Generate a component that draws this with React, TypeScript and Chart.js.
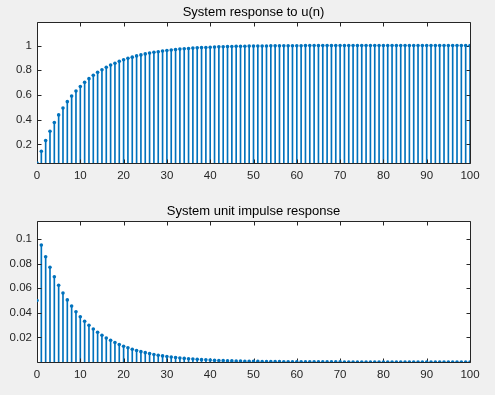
import React, { useEffect, useRef } from "react";
import { Chart, registerables } from "chart.js";
Chart.register(...registerables);

// sample index n = 0..100
const N: number[] = Array.from({ length: 101 }, (_, i) => i);

// step response y(n)
const STEP_Y: number[] = [
  0.05, 0.145, 0.231, 0.307, 0.377, 0.439, 0.495, 0.546, 0.591, 0.632,
  0.669, 0.702, 0.732, 0.759, 0.783, 0.804, 0.824, 0.842, 0.857, 0.872,
  0.885, 0.896, 0.906, 0.916, 0.924, 0.932, 0.939, 0.945, 0.95, 0.955,
  0.96, 0.964, 0.967, 0.971, 0.974, 0.976, 0.979, 0.981, 0.983, 0.984,
  0.986, 0.987, 0.989, 0.99, 0.991, 0.992, 0.993, 0.993, 0.994, 0.995,
  0.995, 0.996, 0.996, 0.996, 0.997, 0.997, 0.997, 0.998, 0.998, 0.998,
  0.998, 0.998, 0.999, 0.999, 0.999, 0.999, 0.999, 0.999, 0.999, 0.999,
  0.999, 0.999, 1, 1, 1, 1, 1, 1, 1, 1,
  1, 1, 1, 1, 1, 1, 1, 1, 1, 1,
  1, 1, 1, 1, 1, 1, 1, 1, 1, 1,
  1,
];

// unit impulse response h(n)
const IMPULSE_Y: number[] = [
  0.05, 0.095, 0.0855, 0.07695, 0.06926, 0.06233, 0.0561, 0.05049, 0.04544, 0.04089,
  0.0368, 0.03312, 0.02981, 0.02683, 0.02415, 0.02173, 0.01956, 0.0176, 0.01584, 0.01426,
  0.01283, 0.01155, 0.01039, 0.00936, 0.00842, 0.00758, 0.00682, 0.00614, 0.00552, 0.00497,
  0.00447, 0.00403, 0.00362, 0.00326, 0.00294, 0.00264, 0.00238, 0.00214, 0.00193, 0.00173,
  0.00156, 0.0014, 0.00126, 0.00114, 0.00102, 0.00092, 0.00083, 0.00075, 0.00067, 0.0006,
  0.00054, 0.00049, 0.00044, 0.0004, 0.00036, 0.00032, 0.00029, 0.00026, 0.00023, 0.00021,
  0.00019, 0.00017, 0.00015, 0.00014, 0.00012, 0.00011, 0.0001, 0.00009, 0.00008, 0.00007,
  0.00007, 0.00006, 0.00005, 0.00005, 0.00004, 0.00004, 0.00004, 0.00003, 0.00003, 0.00003,
  0.00002, 0.00002, 0.00002, 0.00002, 0.00002, 0.00002, 0.00002, 0.00002, 0.00002, 0.00002,
  0.00001, 0.00001, 0.00001, 0.00001, 0.00001, 0.00001, 0.00001, 0.00001, 0.00001, 0.00001,
  0.00001,
];

const X_TICKS: number[] = [0, 10, 20, 30, 40, 50, 60, 70, 80, 90, 100];
const STEP_Y_TICKS: number[] = [0.2, 0.4, 0.6, 0.8, 1];
const IMP_Y_TICKS: number[] = [0.02, 0.04, 0.06, 0.08, 0.1];
const TITLES: string[] = ["System response to u(n)", "System unit impulse response"];

const BLUE = "#0072BD";
const AXIS = "#262626";
const FONT = "'Liberation Sans', Arial, sans-serif";
const TICK_LEN = 4;
const TICK_FONT = 11.5;
const TITLE_FONT = 13;

function axesPlugin(title: string, titleY: number) {
  return {
    id: "matlabAxes",
    beforeDraw(chart: any) {
      const { ctx, chartArea: a } = chart;
      ctx.save();
      ctx.fillStyle = "#ffffff";
      ctx.fillRect(a.left, a.top, a.right - a.left, a.bottom - a.top);
      ctx.restore();
    },
    afterDatasetDraw(chart: any, args: any) {
      if (args.index !== 0) return;
      const { ctx, chartArea: a, scales } = chart;
      const L = Math.round(a.left) + 0.5;
      const R = Math.round(a.right) + 0.5;
      const T = Math.round(a.top) + 0.5;
      const B = Math.round(a.bottom) + 0.5;
      ctx.save();
      ctx.strokeStyle = AXIS;
      ctx.lineWidth = 1;
      ctx.beginPath();
      ctx.rect(L, T, R - L, B - T);
      for (const t of scales.x.ticks) {
        const px = Math.round(scales.x.getPixelForValue(t.value)) + 0.5;
        ctx.moveTo(px, B);
        ctx.lineTo(px, B - TICK_LEN);
        ctx.moveTo(px, T);
        ctx.lineTo(px, T + TICK_LEN);
      }
      for (const t of scales.y.ticks) {
        const py = Math.round(scales.y.getPixelForValue(t.value)) + 0.5;
        ctx.moveTo(L, py);
        ctx.lineTo(L + TICK_LEN, py);
        ctx.moveTo(R, py);
        ctx.lineTo(R - TICK_LEN, py);
      }
      ctx.stroke();
      ctx.restore();
    },
    afterDraw(chart: any) {
      const { ctx, chartArea: a } = chart;
      ctx.save();
      ctx.fillStyle = "#000000";
      ctx.font = `${TITLE_FONT}px ${FONT}`;
      ctx.textAlign = "center";
      ctx.textBaseline = "middle";
      ctx.fillText(title, (a.left + a.right) / 2, titleY);
      ctx.restore();
    },
  };
}

function makeConfig(
  values: number[],
  yMin: number,
  yMax: number,
  yTicks: number[],
  title: string,
  padTop: number,
  xAxisH: number,
  titleY: number
): any {
  const pts = N.map((n, i) => ({ x: n, y: values[i] }));
  return {
    type: "scatter",
    data: {
      datasets: [
        {
          type: "bar",
          data: pts,
          backgroundColor: BLUE,
          borderWidth: 0,
          barThickness: 1,
          order: 1,
        },
        {
          type: "scatter",
          data: pts,
          pointRadius: 1.8,
          pointBackgroundColor: BLUE,
          pointBorderWidth: 0,
          showLine: false,
          order: 0,
        },
      ],
    },
    options: {
      responsive: false,
      maintainAspectRatio: false,
      animation: false,
      events: [],
      layout: { padding: { left: 0, right: 25, top: padTop, bottom: 0 } },
      plugins: {
        legend: { display: false },
        tooltip: { enabled: false },
        title: { display: false },
      },
      scales: {
        x: {
          type: "linear",
          min: 0,
          max: 100,
          offset: false,
          afterBuildTicks: (s: any) => {
            s.ticks = X_TICKS.map((v) => ({ value: v }));
          },
          afterFit: (s: any) => {
            s.height = xAxisH;
          },
          grid: { display: false, drawTicks: false },
          border: { display: false },
          ticks: {
            font: { family: FONT, size: TICK_FONT },
            color: AXIS,
            padding: 6,
            maxRotation: 0,
            autoSkip: false,
          },
        },
        y: {
          type: "linear",
          min: yMin,
          max: yMax,
          afterBuildTicks: (s: any) => {
            s.ticks = yTicks.map((v) => ({ value: v }));
          },
          afterFit: (s: any) => {
            s.width = 37;
          },
          grid: { display: false, drawTicks: false },
          border: { display: false },
          ticks: {
            font: { family: FONT, size: TICK_FONT },
            color: AXIS,
            padding: 5,
            autoSkip: false,
            callback: (v: number) => String(+v.toFixed(4)),
          },
        },
      },
    },
    plugins: [axesPlugin(title, titleY)],
  };
}

export default function App() {
  const topRef = useRef<HTMLCanvasElement>(null);
  const botRef = useRef<HTMLCanvasElement>(null);

  useEffect(() => {
    const c1 = new Chart(
      topRef.current as HTMLCanvasElement,
      makeConfig(STEP_Y, 0.05, 1.19, STEP_Y_TICKS, TITLES[0], 22, 34, 12)
    );
    const c2 = new Chart(
      botRef.current as HTMLCanvasElement,
      makeConfig(IMPULSE_Y, 0, 0.1146, IMP_Y_TICKS, TITLES[1], 24, 33, 14.5)
    );
    return () => {
      c1.destroy();
      c2.destroy();
    };
  }, []);

  return (
    <div
      style={{
        position: "fixed",
        left: 0,
        top: 0,
        width: 495,
        height: 395,
        background: "#f0f0f0",
      }}
    >
      <canvas
        ref={topRef}
        width={495}
        height={197}
        style={{ position: "absolute", left: 0, top: 0, width: 495, height: 197 }}
      />
      <canvas
        ref={botRef}
        width={495}
        height={198}
        style={{ position: "absolute", left: 0, top: 197, width: 495, height: 198 }}
      />
    </div>
  );
}
